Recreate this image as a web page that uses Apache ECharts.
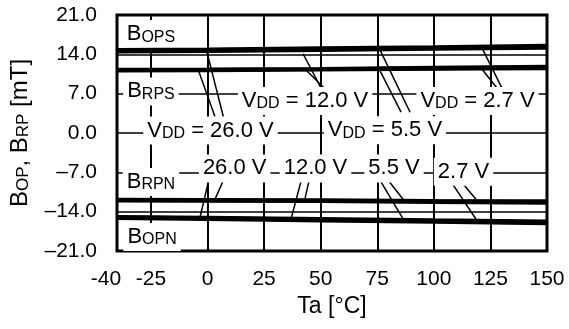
<!DOCTYPE html>
<html>
<head>
<meta charset="utf-8">
<script src="https://cdn.jsdelivr.net/npm/echarts@6/dist/echarts.min.js"></script>
<style>
  html, body { margin: 0; padding: 0; background: #fff; }
  #chart { width: 569px; height: 329px; }
</style>
</head>
<body>
<div id="chart"></div>
<script>
// temperatures (°C) where the curves were read
const temps = [-40, 0, 50, 100, 150];
const xTicks = [-40, -25, 0, 25, 50, 75, 100, 125, 150];

// rows: VDD = 26.0 V, 12.0 V, 5.5 V, 2.7 V  (mT)
const bops = [
  [14.4, 14.5, 14.7, 14.9, 15.1],
  [14.55, 14.65, 14.85, 15.05, 15.25],
  [14.7, 14.8, 15.0, 15.2, 15.45],
  [14.85, 14.95, 15.15, 15.35, 15.6]
];
const brps = [
  [11.05, 11.1, 11.2, 11.35, 11.45],
  [11.15, 11.2, 11.3, 11.45, 11.6],
  [11.25, 11.3, 11.4, 11.6, 11.75],
  [11.35, 11.4, 11.5, 11.7, 11.9]
];
const brpn = [
  [-11.8, -11.85, -11.9, -12.0, -12.05],
  [-11.9, -11.95, -12.0, -12.1, -12.2],
  [-12.0, -12.05, -12.1, -12.2, -12.35],
  [-12.1, -12.15, -12.2, -12.35, -12.5]
];
const bopn = [
  [-14.85, -15.0, -15.2, -15.45, -15.65],
  [-14.95, -15.1, -15.35, -15.6, -15.8],
  [-15.1, -15.25, -15.5, -15.75, -16.0],
  [-15.2, -15.4, -15.65, -15.9, -16.15]
];

// annotation texts and where they sit (data units)
const noteText = [
  '{b|B}{s|OPS}', '{b|B}{s|RPS}', '{b|B}{s|RPN}', '{b|B}{s|OPN}',
  '{b|V}{s|DD}{b| = 12.0 V}', '{b|V}{s|DD}{b| = 2.7 V}',
  '{b|V}{s|DD}{b| = 26.0 V}', '{b|V}{s|DD}{b| = 5.5 V}',
  '{b|26.0 V}', '{b|12.0 V}', '{b|5.5 V}', '{b|2.7 V}'
];
const noteX = [-25, -25, -25, -24.5, 43.1, 119.3, 1.3, 78.4, 12, 47.7, 82.4, 113.1];
const noteY = [17.6, 7.4, -8.7, -18.5, 5.7, 5.7, 0.45, 0.5, -6.3, -6.3, -6.3, -6.9];

// leader lines from the labels to the curve groups
const leaderFrom = [
  [-0.2, 14.3], [-3.8, 10.9], [42.2, 14.1], [43.5, 11.2],
  [76.2, 14.8], [75.3, 11.8], [121.7, 14.8], [120.4, 11.8],
  [0.4, -8.6], [6.8, -8.6], [41.3, -8.6], [44.8, -8.6],
  [76.2, -8.4], [79.8, -8.4], [107.1, -8.4], [111.6, -8.4]
];
const leaderTo = [
  [7.0, 2.9], [3.3, 2.9], [50.2, 8.0], [51.5, 8.0],
  [89.5, 3.7], [85.5, 3.7], [130.1, 8.0], [127.9, 8.0],
  [-3.3, -15.0], [3.3, -11.8], [37.1, -15.0], [43.1, -11.6],
  [86.4, -15.3], [86.4, -11.8], [118.6, -15.3], [118.6, -11.8]
];

const font = 'Liberation Sans, Arial, sans-serif';
const chart = echarts.init(document.getElementById('chart'));

const curveSeries = [];
[bops, brps, brpn, bopn].forEach(group => {
  group.forEach(vals => {
    curveSeries.push({
      type: 'line',
      data: temps.map((t, i) => [t, vals[i]]),
      showSymbol: false,
      symbol: 'none',
      silent: true,
      z: 4,
      lineStyle: {color: '#000', width: 3}
    });
  });
});

let option = {
  animation: false,
  grid: {
    left: 117, right: 22, top: 15, bottom: 78,
    show: true, borderColor: '#000', borderWidth: 3
  },
  xAxis: {
    type: 'value',
    min: -40,
    max: 150,
    name: 'Ta [°C]',
    nameLocation: 'middle',
    nameGap: 41,
    nameTextStyle: {fontFamily: font, fontSize: 23, color: '#000'},
    axisLine: {show: false},
    axisTick: {show: false, customValues: xTicks},
    axisLabel: {
      customValues: xTicks,
      margin: 18,
      fontFamily: font,
      fontSize: 21,
      color: '#000',
      formatter: v => v === -40 ? '{l|-40}' : String(v),
      rich: {l: {fontFamily: font, fontSize: 21, color: '#000', padding: [0, 22, 0, 0]}}
    },
    splitLine: {show: true, lineStyle: {color: '#000', width: 2, type: 'solid', opacity: 1}}
  },
  yAxis: {
    type: 'value',
    min: -21,
    max: 21,
    interval: 7,
    name: '{b|B}{s|OP}{b|, B}{s|RP}{b| [mT]}',
    nameLocation: 'middle',
    nameGap: 85,
    nameTextStyle: {
      fontFamily: font, fontSize: 24, color: '#000',
      rich: {
        b: {fontFamily: font, fontSize: 24, lineHeight: 24, color: '#000', verticalAlign: 'bottom'},
        s: {fontFamily: font, fontSize: 17, lineHeight: 17, color: '#000', verticalAlign: 'bottom'}
      }
    },
    axisLine: {show: false},
    axisTick: {show: false},
    axisLabel: {
      margin: 20,
      fontFamily: font,
      fontSize: 21,
      color: '#000',
      padding: [4, 0, 0, 0],
      formatter: v => v < 0 ? '\u2013' + Math.abs(v).toFixed(1) : v.toFixed(1)
    },
    splitLine: {show: true, lineStyle: {color: '#000', width: 1.5, type: 'solid', opacity: 1}}
  },
  series: [
    {
      type: 'lines',
      coordinateSystem: 'cartesian2d',
      silent: true,
      z: 2,
      lineStyle: {color: '#000', width: 1.5, opacity: 1},
      data: leaderFrom.map((p, i) => ({coords: [p, leaderTo[i]]}))
    },
    {
      type: 'scatter',
      silent: true,
      z: 3,
      symbolSize: 1,
      itemStyle: {color: 'rgba(0,0,0,0)'},
      data: noteX.map((x, i) => [x, noteY[i]]),
      label: {
        show: true,
        position: 'inside',
        align: 'center',
        verticalAlign: 'middle',
        color: '#000',
        opacity: 1,
        textBorderWidth: 0,
        textBorderColor: 'transparent',
        backgroundColor: '#fff',
        padding: [3, 4],
        formatter: p => noteText[p.dataIndex],
        rich: {
          b: {fontFamily: font, fontSize: 22, lineHeight: 22, color: '#000', textBorderWidth: 0, verticalAlign: 'bottom'},
          s: {fontFamily: font, fontSize: 16, lineHeight: 16, color: '#000', textBorderWidth: 0, verticalAlign: 'bottom'}
        }
      }
    }
  ].concat(curveSeries)
};

chart.setOption(option);
</script>
</body>
</html>
